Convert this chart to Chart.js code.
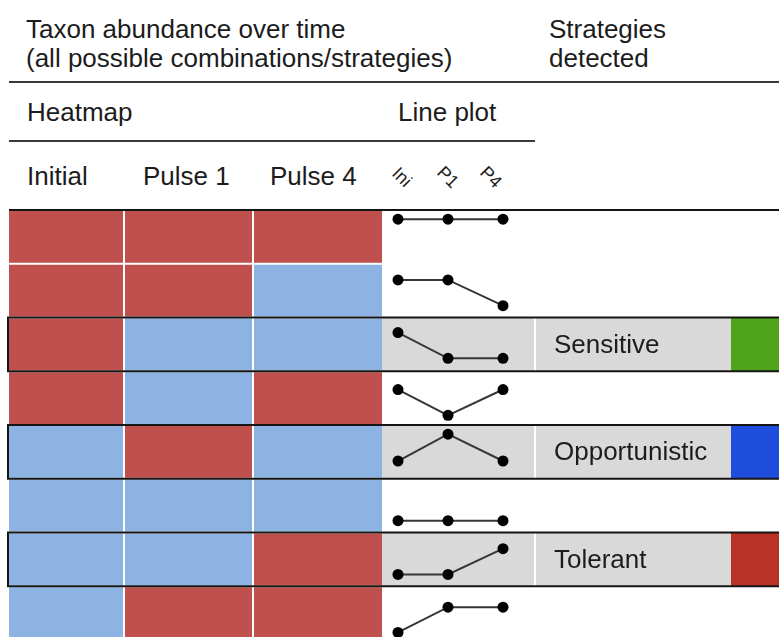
<!DOCTYPE html>
<html>
<head>
<meta charset="utf-8">
<script src="https://cdn.jsdelivr.net/npm/chart.js@4.4.1/dist/chart.umd.min.js"></script>
<style>
  html, body { margin: 0; padding: 0; background: #fff; overflow: hidden; }
  #page { position: relative; width: 779px; height: 637px; overflow: hidden;
          font-family: "Liberation Sans", Arial, sans-serif; color: #1c1c1c; }
  .t { position: absolute; font-size: 26px; line-height: 26px; white-space: nowrap; }
  .rule { position: absolute; height: 2px; background: #3a3a3a; }
  .rot { position: absolute; width: 40px; text-align: center; font-size: 18px; line-height: 18px;
         transform: rotate(45deg); }
  #wrap { position: absolute; left: 0; top: 200px; width: 779px; height: 440px; }
</style>
</head>
<body>
<div id="page">
  <div class="t" style="left:26px;top:16px">Taxon abundance over time</div>
  <div class="t" style="left:26px;top:45px">(all possible combinations/strategies)</div>
  <div class="t" style="left:549px;top:16px">Strategies</div>
  <div class="t" style="left:549px;top:45px">detected</div>
  <div class="rule" style="left:9px;top:81px;width:770px"></div>

  <div class="t" style="left:27px;top:99px">Heatmap</div>
  <div class="t" style="left:398px;top:99px">Line plot</div>
  <div class="rule" style="left:9px;top:140px;width:526px"></div>

  <div id="colHeads"></div>

  <div id="wrap"><canvas id="grid" width="779" height="440"></canvas></div>
</div>

<script>
// Combinaciones de abundancia: 1 = alta (rojo), 0 = baja (azul)
const timepoints = ['Initial', 'Pulse 1', 'Pulse 4'];
const lineLabels = ['Ini', 'P1', 'P4'];
const initialHigh = [1, 1, 1, 1, 0, 0, 0, 0];
const pulse1High  = [1, 1, 0, 0, 1, 0, 0, 1];
const pulse4High  = [1, 0, 0, 1, 0, 0, 1, 1];

// Line plot: abundance inside each row (0 = bottom of row, 1 = top)
const iniLine = [0.83, 0.70, 0.72, 0.66, 0.33, 0.22, 0.22, 0.14];
const p1Line  = [0.83, 0.70, 0.24, 0.18, 0.83, 0.22, 0.22, 0.61];
const p4Line  = [0.83, 0.22, 0.24, 0.66, 0.33, 0.22, 0.70, 0.61];

const strategies = ['', '', 'Sensitive', '', 'Opportunistic', '', 'Tolerant', ''];

// layout + colours
const layout = {
  heatEdges: [9, 124, 253, 382],
  linePos: [398, 448, 503],
  headPos: [27, 143, 270],
  rotPos: [402, 448, 491],
  labelLeft: 535,
  barLeft: 731,
  right: 779
};
const heatRed = '#c0504d';
const heatBlue = '#8db3e2';
const bandGray = '#d9d9d9';
const strategyColors = { Sensitive: '#4fa41c', Opportunistic: '#1e4ddb', Tolerant: '#b83325' };

// Cabeceras de columna
const heads = document.getElementById('colHeads');
timepoints.forEach((t, i) => {
  const d = document.createElement('div');
  d.className = 't';
  d.style.left = layout.headPos[i] + 'px';
  d.style.top = '163px';
  d.textContent = t;
  heads.appendChild(d);
});
lineLabels.forEach((t, i) => {
  const d = document.createElement('div');
  d.className = 'rot';
  d.style.left = (layout.rotPos[i] - 20) + 'px';
  d.style.top = '168px';
  d.textContent = t;
  heads.appendChild(d);
});

const heatCols = [initialHigh, pulse1High, pulse4High];
const lineCols = [iniLine, p1Line, p4Line];
const rows = strategies.length;

const gridPlugin = {
  id: 'gridCells',
  beforeDatasetsDraw(chart) {
    const { ctx, scales: { x, y } } = chart;
    const px = (v) => x.getPixelForValue(v);
    ctx.save();
    for (let r = 0; r < rows; r++) {
      const top = y.getPixelForValue(r);
      const bot = y.getPixelForValue(r + 1);
      const s = strategies[r];
      if (s) {
        ctx.fillStyle = bandGray;
        ctx.fillRect(px(layout.heatEdges[3]), top, px(layout.labelLeft) - px(layout.heatEdges[3]) - 1, bot - top);
        ctx.fillRect(px(layout.labelLeft) + 1, top, px(layout.barLeft) - px(layout.labelLeft) - 1, bot - top);
        ctx.fillStyle = strategyColors[s];
        ctx.fillRect(px(layout.barLeft), top, px(layout.right) - px(layout.barLeft), bot - top);
        ctx.fillStyle = '#1c1c1c';
        ctx.font = '26px "Liberation Sans", Arial, sans-serif';
        ctx.textBaseline = 'middle';
        ctx.fillText(s, px(layout.labelLeft) + 19, (top + bot) / 2 + 1);
      }
      heatCols.forEach((col, c) => {
        const x0 = px(layout.heatEdges[c]) + (c ? 1 : 0);
        const x1 = px(layout.heatEdges[c + 1]) - (c < 2 ? 1 : 0);
        ctx.fillStyle = col[r] ? heatRed : heatBlue;
        ctx.fillRect(x0, top + (r ? 1 : 0), x1 - x0, bot - top - (r ? 2 : 1));
      });
    }
    // recuadros de estrategias detectadas
    ctx.strokeStyle = '#151515';
    ctx.lineWidth = 2;
    for (let r = 0; r < rows; r++) {
      if (!strategies[r]) continue;
      const top = y.getPixelForValue(r);
      const bot = y.getPixelForValue(r + 1);
      ctx.strokeRect(px(8), top, px(layout.right) + 6 - px(8), bot - top);
    }
    // línea superior
    ctx.beginPath();
    ctx.moveTo(px(9), y.getPixelForValue(0));
    ctx.lineTo(px(layout.right), y.getPixelForValue(0));
    ctx.stroke();
    ctx.restore();
  }
};

const datasets = strategies.map((s, r) => ({
  data: lineCols.map((col, i) => ({ x: layout.linePos[i], y: r + 1 - col[r] })),
  showLine: true,
  borderColor: '#363636',
  borderWidth: 2,
  pointRadius: 5.5,
  pointBackgroundColor: '#000',
  pointBorderWidth: 0
}));

new Chart(document.getElementById('grid'), {
  type: 'scatter',
  data: { datasets },
  options: {
    responsive: false,
    animation: false,
    layout: { autoPadding: false, padding: { top: 10, left: 0, right: 0, bottom: 0 } },
    plugins: { legend: { display: false }, tooltip: { enabled: false } },
    scales: {
      x: { type: 'linear', min: 0, max: 779, display: false },
      y: { type: 'linear', min: 0, max: 8, reverse: true, display: false }
    }
  },
  plugins: [gridPlugin]
});
</script>
</body>
</html>
